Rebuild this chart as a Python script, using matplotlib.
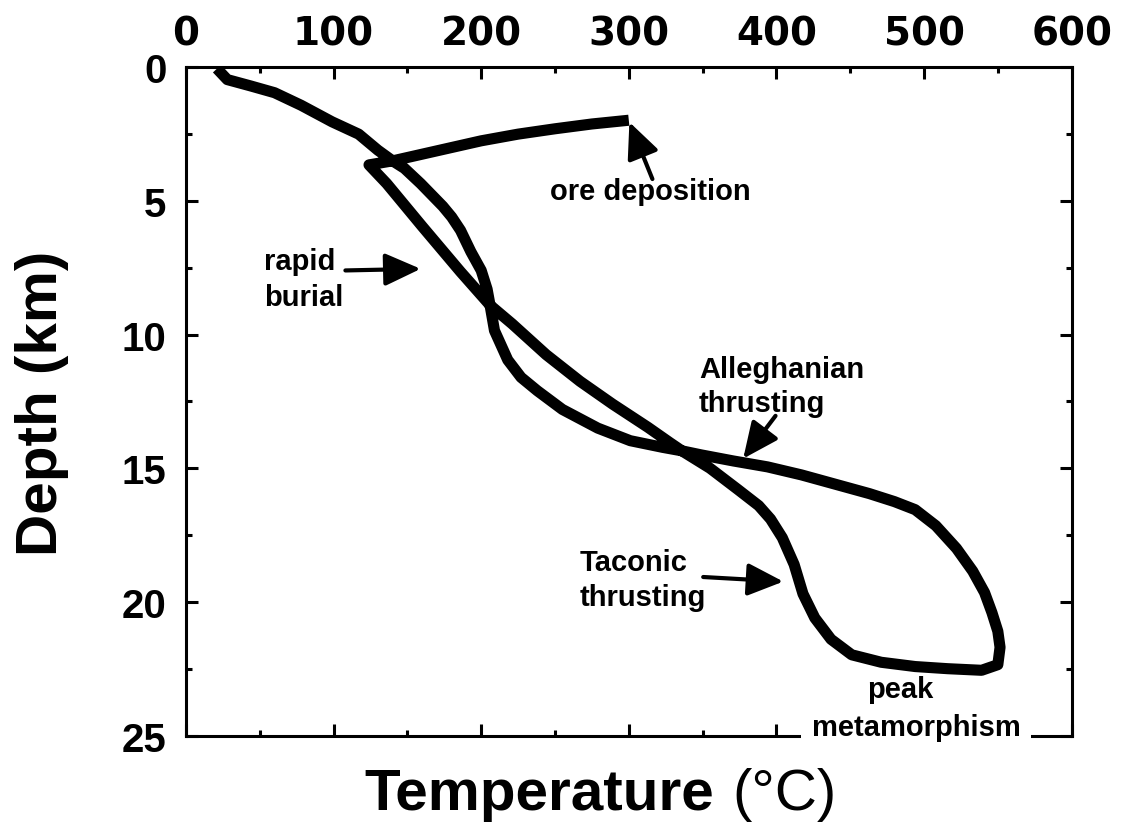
import matplotlib
matplotlib.use('Agg')
import matplotlib.pyplot as plt
from matplotlib.ticker import MultipleLocator

# P-T path traced as one continuous line (temperature in degC, depth in km)
# surface -> upper curve -> Alleghanian limb -> peak -> Taconic limb -> rapid burial -> ore deposition
path_temp = [21, 28, 44, 60, 78, 99, 117, 130, 140,
             148, 159, 174, 180, 186, 193, 200, 204, 206,
             209, 218, 227, 238, 255, 279, 301, 323, 336,
             349, 371, 394, 417, 440, 463, 480, 494, 508, 522, 533, 541, 546, 550, 551.5, 550,
             539, 516, 494, 471, 451, 437,
             426, 418, 412, 404, 396, 388, 374, 355, 336,
             328, 313, 289, 267, 244, 221, 206,
             186, 160, 136, 124,
             140, 160, 180, 200, 225, 250, 275, 300]
path_depth = [0.05, 0.46, 0.7, 0.95, 1.42, 2.04, 2.5, 3.1, 3.5,
              3.78, 4.35, 5.2, 5.6, 6.1, 6.9, 7.6, 8.3, 8.9,
              9.85, 10.95, 11.6, 12.1, 12.8, 13.5, 13.97, 14.22, 14.35,
              14.5, 14.73, 14.95, 15.25, 15.6, 15.95, 16.25, 16.55, 17.15, 18.0, 18.85, 19.65, 20.4, 21.1, 21.7, 22.35,
              22.56, 22.5, 22.42, 22.26, 21.98, 21.4,
              20.6, 19.7, 18.6, 17.6, 16.9, 16.4, 15.8, 15.0, 14.35,
              14.05, 13.47, 12.6, 11.75, 10.75, 9.6, 8.9,
              7.65, 5.95, 4.35, 3.65,
              3.5, 3.25, 3.0, 2.75, 2.5, 2.3, 2.12, 1.98]

# annotation text (left x / baseline, in data units)
label_text = ['ore deposition', 'rapid', 'burial', 'Alleghanian', 'thrusting', 'Taconic', 'thrusting']
label_x = [246.4, 52.7, 52.7, 347.5, 347.5, 267.0, 267.0]
label_y = [4.93, 7.54, 8.90, 11.59, 12.87, 18.79, 20.10]

# arrows: tail -> tip
arrow_tail = [(316.0, 4.18), (108.0, 7.60), (399.4, 13.04), (350.4, 19.07)]
arrow_tip = [(300.4, 2.05), (159.0, 7.54), (377.5, 14.64), (404.7, 19.24)]

x_ticks = [0, 100, 200, 300, 400, 500, 600]
x_tick_labels = ['0', '100', '200', '300', '400', '500', '600']
y_ticks = [0, 5, 10, 15, 20, 25]
y_tick_labels = ['0', '5', '10', '15', '20', '25']

plt.rcParams['font.family'] = ['Liberation Sans', 'DejaVu Sans']

fig = plt.figure(figsize=(11.34, 8.28), dpi=100)
ax = fig.add_axes([0.164, 0.1105, 0.781, 0.807])

ax.plot(path_temp, path_depth, color='black', lw=8,
        solid_joinstyle='round', solid_capstyle='butt', zorder=3)

for tail, tip in zip(arrow_tail, arrow_tip):
    ax.annotate('', xy=tip, xytext=tail, xycoords='data', textcoords='data',
                arrowprops=dict(arrowstyle='-|>,head_length=1.1,head_width=0.5',
                                mutation_scale=20, lw=3, color='black',
                                shrinkA=0, shrinkB=0),
                zorder=4)

for txt, tx, ty in zip(label_text, label_x, label_y):
    ax.text(tx, ty, txt, ha='left', va='baseline', fontsize=21,
            fontweight='bold', zorder=5)

# peak metamorphism sits over the bottom axis line, leaving a gap in it
ax.text(484, 23.56, 'peak', ha='center', va='baseline', fontsize=21,
        fontweight='bold', zorder=7)
ax.text(494.6, 24.98, 'metamorphism', ha='center', va='baseline', fontsize=21,
        fontweight='bold', zorder=6, clip_on=False,
        bbox=dict(boxstyle='square,pad=0.35', fc='white', ec='none'))

ax.set_xlim(0, 600)
ax.set_ylim(25, 0)

ax.set_xticks(x_ticks, labels=x_tick_labels, fontfamily='DejaVu Sans',
              fontweight='bold', fontsize=28)
ax.set_yticks(y_ticks, labels=y_tick_labels, fontweight='bold', fontsize=29)
ax.xaxis.set_minor_locator(MultipleLocator(50))
ax.yaxis.set_minor_locator(MultipleLocator(2.5))

ax.tick_params(which='both', direction='in', top=True, bottom=True,
               left=True, right=True, labeltop=True, labelbottom=False,
               labelleft=True, labelright=False, width=2.2, color='black')
ax.tick_params(which='major', length=8.5)
ax.tick_params(which='minor', length=4.5)
ax.tick_params(axis='x', which='major', pad=11)
ax.tick_params(axis='y', which='major', pad=14)

for side in ['top', 'bottom', 'left', 'right']:
    ax.spines[side].set_linewidth(2.2)

fig.text(0.037, 0.513, 'Depth (km)', rotation=90, ha='center', va='center',
         fontsize=42, fontweight='bold')
fig.text(364 / 1134, 0.0217, 'Temperature', ha='left', va='baseline',
         fontsize=42, fontweight='bold')
fig.text(732 / 1134, 0.0217, '(°C)', ha='left', va='baseline',
         fontsize=42, fontweight='normal')

fig.savefig('out.png', dpi=100, facecolor='white')
